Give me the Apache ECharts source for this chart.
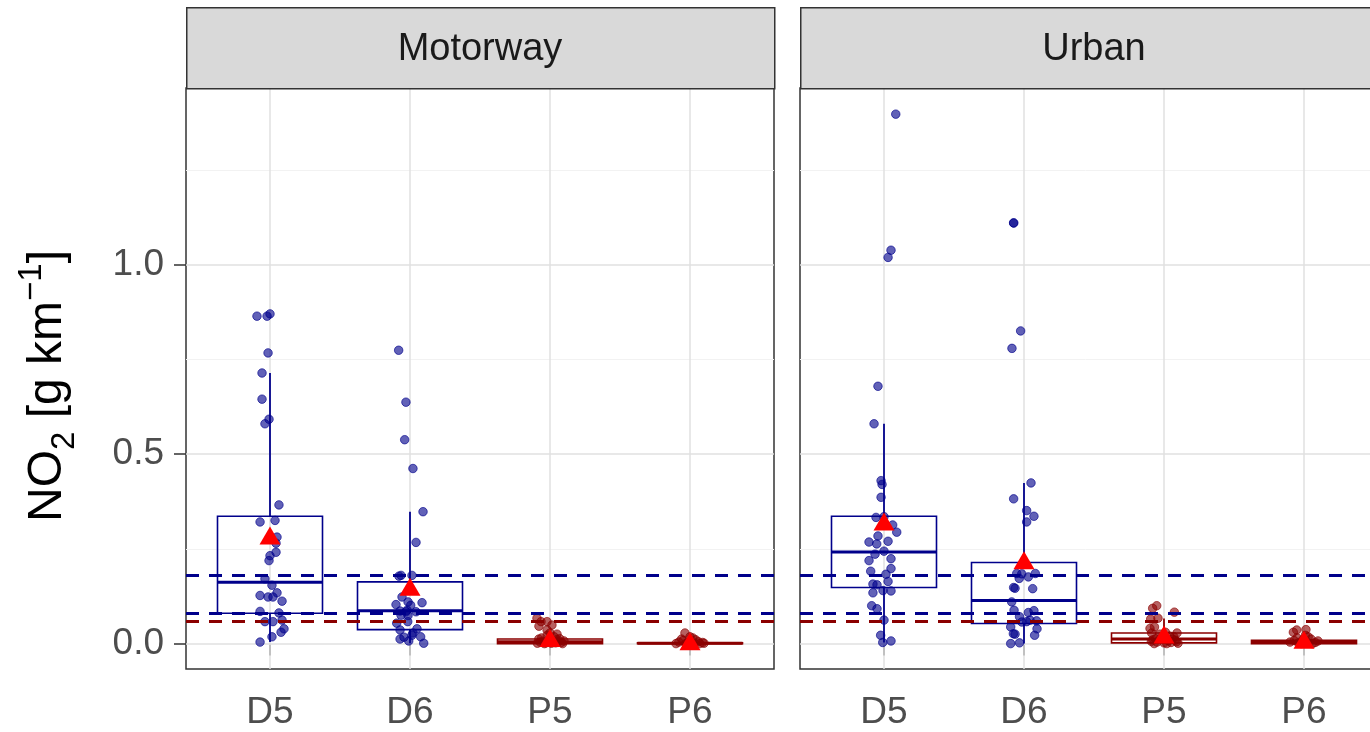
<!DOCTYPE html>
<html>
<head>
<meta charset="utf-8">
<script src="https://cdn.jsdelivr.net/npm/echarts@6/dist/echarts.min.js"></script>
<style>html,body{margin:0;padding:0;background:#fff;}#c{width:1370px;height:732px;}</style>
</head>
<body>
<div id="c"></div>
<script>
// ---------------- DATA ----------------
const categories = ['D5', 'D6', 'P5', 'P6'];
const facets = ['Motorway', 'Urban'];
const yTicks = [0, 0.5, 1.0];
const yMinorGrid = [0.25, 0.75, 1.25];
const limitsDiesel = [0.18, 0.08];
const limitsPetrol = [0.06];

// box stats: [lower whisker, Q1, median, Q3, upper whisker]
const motorwayBox = [
  [0.004, 0.080, 0.162, 0.336, 0.714],
  [0.001, 0.037, 0.087, 0.163, 0.348],
  [0.000, 0.000, 0.005, 0.012, 0.028],
  [0.000, 0.000, 0.001, 0.002, 0.004]
];
const urbanBox = [
  [0.003, 0.148, 0.242, 0.336, 0.580],
  [0.000, 0.053, 0.114, 0.214, 0.424],
  [0.000, 0.002, 0.012, 0.028, 0.066],
  [0.000, 0.000, 0.003, 0.009, 0.020]
];
const motorwayMean = [0.285, 0.150, 0.015, 0.006];
const urbanMean = [0.322, 0.220, 0.024, 0.010];

// jittered points: [horizontal jitter (category units), value]
const motorwayD5 = [[-0.093,0.864],[-0.021,0.864],[0,0.870],[-0.014,0.767],[-0.057,0.714],[-0.057,0.645],[-0.007,0.592],[-0.036,0.580],[0.064,0.366],[-0.071,0.321],[0.036,0.325],[0.05,0.281],[0.043,0.265],[0.043,0.241],[0,0.232],[-0.007,0.219],[-0.036,0.171],[0.014,0.154],[-0.071,0.127],[-0.014,0.123],[0.021,0.123],[0.05,0.134],[0.086,0.112],[-0.071,0.085],[0.064,0.081],[-0.036,0.058],[0.021,0.058],[0.086,0.062],[0.1,0.039],[0.079,0.030],[0.014,0.018],[-0.071,0.004]];
const motorwayD6 = [[-0.081,0.774],[-0.029,0.637],[-0.038,0.538],[0.021,0.462],[0.093,0.348],[0.043,0.267],[-0.064,0.180],[-0.079,0.178],[0.014,0.180],[-0.057,0.123],[-0.1,0.103],[-0.014,0.110],[0.005,0.101],[0.086,0.108],[-0.071,0.086],[-0.029,0.084],[-0.021,0.088],[0.043,0.084],[-0.064,0.075],[-0.014,0.074],[-0.016,0.058],[-0.095,0.054],[-0.071,0.036],[0.05,0.039],[0.021,0.028],[-0.071,0.012],[-0.043,0.017],[-0.009,0.007],[0.076,0.018],[0.098,0.001],[0.014,0.022]];
const motorwayP5 = [[-0.093,0.067],[-0.064,0.058],[-0.021,0.058],[0.014,0.049],[-0.079,0.046],[-0.021,0.036],[-0.08,0.012],[-0.05,0.006],[-0.03,0.002],[0,0.009],[0.02,0.004],[0.05,0.011],[0.08,0.003],[0.1,0.007],[-0.09,0.001],[-0.06,0.015],[0.03,0.018],[0.06,0.005],[-0.02,0.022],[0.07,0.013],[-0.04,0.000],[0.01,0.001],[0.09,0.000],[0.04,0.002],[-0.07,0.004],[0,0.028],[0.05,0.025]];
const motorwayP6 = [[-0.036,0.028],[-0.08,0.004],[-0.05,0.008],[-0.02,0.002],[0,0.006],[0.03,0.001],[0.06,0.005],[0.09,0.003],[-0.1,0.000],[0.1,0.001],[0.04,0.010],[-0.06,0.012],[0.02,0.015],[-0.03,0.000],[0.07,0.000],[0,0.018]];
const urbanD5 = [[0.084,1.397],[0.05,1.038],[0.029,1.019],[-0.043,0.679],[-0.071,0.580],[-0.021,0.430],[-0.014,0.420],[-0.021,0.386],[-0.057,0.333],[0,0.335],[0.062,0.313],[0.091,0.294],[-0.043,0.284],[-0.107,0.268],[-0.052,0.263],[0.029,0.270],[0,0.244],[-0.064,0.236],[-0.107,0.219],[0.05,0.224],[-0.095,0.191],[0.05,0.198],[0.014,0.183],[-0.079,0.157],[-0.05,0.155],[0.029,0.164],[-0.079,0.134],[-0.007,0.140],[0.05,0.139],[-0.088,0.100],[-0.05,0.092],[0,0.062],[-0.024,0.022],[-0.009,0.003],[0.05,0.007]];
const urbanD6 = [[-0.074,1.110],[-0.074,1.110],[-0.024,0.825],[-0.086,0.779],[0.05,0.424],[-0.074,0.382],[0.019,0.351],[0.071,0.336],[0.019,0.321],[-0.052,0.185],[-0.016,0.184],[0.031,0.176],[0.081,0.185],[-0.034,0.172],[-0.074,0.148],[-0.064,0.146],[0.062,0.145],[-0.088,0.110],[-0.071,0.088],[0.031,0.082],[0.071,0.087],[-0.032,0.071],[-0.016,0.057],[0.019,0.058],[0.043,0.062],[0.09,0.060],[-0.095,0.044],[0.093,0.039],[-0.076,0.026],[-0.064,0.025],[0.076,0.022],[-0.095,0.000],[-0.032,0.002]];
const urbanP5 = [[-0.052,0.100],[-0.081,0.093],[0.074,0.083],[-0.043,0.067],[-0.095,0.065],[-0.068,0.044],[-0.1,0.040],[-0.088,0.028],[0.093,0.028],[-0.08,0.010],[-0.05,0.004],[-0.02,0.015],[0,0.002],[0.03,0.008],[0.06,0.012],[0.09,0.005],[-0.07,0.000],[0.1,0.001],[0.04,0.020],[-0.03,0.025],[0.02,0.000],[-0.09,0.006],[0.07,0.018],[0.05,0.003],[-0.06,0.013],[0.01,0.030],[0.08,0.009]];
const urbanP6 = [[-0.052,0.036],[0.014,0.037],[-0.076,0.030],[-0.1,0.004],[-0.07,0.008],[-0.04,0.002],[-0.01,0.010],[0.02,0.005],[0.05,0.012],[0.08,0.003],[0.1,0.007],[-0.02,0.000],[0.03,0.018],[0.06,0.000],[-0.05,0.015],[0.01,0.022]];

const boxStats = [motorwayBox, urbanBox];
const means = [motorwayMean, urbanMean];
const points = [[motorwayD5, motorwayD6, motorwayP5, motorwayP6], [urbanD5, urbanD6, urbanP5, urbanP6]];

// ---------------- STYLE ----------------
const FONT = 'Liberation Sans, Arial, sans-serif';
const catColor = ['#00008B', '#00008B', '#8B0000', '#8B0000'];
const catPoint = ['rgba(0,0,139,0.62)', 'rgba(0,0,139,0.62)', 'rgba(139,0,0,0.62)', 'rgba(139,0,0,0.62)'];
const catEdge = ['rgba(0,0,139,0.8)', 'rgba(0,0,139,0.8)', 'rgba(139,0,0,0.8)', 'rgba(139,0,0,0.8)'];
const gridLefts = [186, 800];
const PW = 588, PT = 88, PH = 581;

const chart = echarts.init(document.getElementById('c'), null, {renderer: 'canvas'});

const grids = [], xAxes = [], yAxes = [], series = [];
facets.forEach((f, i) => {
  grids.push({left: gridLefts[i], top: PT, width: PW, height: PH, show: true, outerBoundsMode: 'none',
    containLabel: false, borderColor: '#333333', borderWidth: 1.5, backgroundColor: '#ffffff'});
  xAxes.push({type: 'value', gridIndex: i, min: 0.4, max: 4.6,
    axisLine: {show: false},
    axisTick: {show: true, customValues: [1, 2, 3, 4], length: 12, lineStyle: {color: '#333333', width: 1.5}},
    axisLabel: {show: true, customValues: [1, 2, 3, 4], formatter: v => categories[Math.round(v) - 1],
      fontSize: 37, color: '#4D4D4D', fontFamily: FONT, margin: 25},
    splitLine: {show: false}});
  yAxes.push({type: 'value', gridIndex: i, min: -0.067, max: 1.466,
    axisLine: {show: false},
    axisTick: {show: i === 0, customValues: yTicks, length: 12, lineStyle: {color: '#333333', width: 1.5}},
    axisLabel: {show: i === 0, customValues: yTicks, formatter: v => v.toFixed(1),
      fontSize: 37, color: '#4D4D4D', fontFamily: FONT, margin: 22},
    splitLine: {show: false}});

  // gridlines
  const gl = [];
  yMinorGrid.forEach(v => gl.push({yAxis: v, lineStyle: {color: '#F2F2F2', width: 1, type: 'solid'}}));
  yTicks.forEach(v => gl.push({yAxis: v, lineStyle: {color: '#E0E0E0', width: 1.5, type: 'solid'}}));
  categories.forEach((c, k) => gl.push({xAxis: k + 1, lineStyle: {color: '#E0E0E0', width: 1.5, type: 'solid'}}));
  series.push({type: 'scatter', xAxisIndex: i, yAxisIndex: i, data: [], z: 1, silent: true,
    markLine: {z: 1, silent: true, symbol: 'none', label: {show: false}, animation: false, data: gl}});

  // boxes
  series.push({type: 'custom', xAxisIndex: i, yAxisIndex: i, z: 2, silent: true,
    data: boxStats[i].map((b, k) => [k + 1].concat(b)),
    renderItem: (params, api) => {
      const x = api.value(0);
      const k = Math.round(x) - 1;
      const col = catColor[k];
      const hw = api.size([0.75, 0])[0] / 2;
      const pLo = api.coord([x, api.value(1)]);
      const pQ1 = api.coord([x, api.value(2)]);
      const pMed = api.coord([x, api.value(3)]);
      const pQ3 = api.coord([x, api.value(4)]);
      const pHi = api.coord([x, api.value(5)]);
      const ls = {stroke: col, lineWidth: 1.6, fill: null};
      const ws = {stroke: col, lineWidth: 1.8};
      return {type: 'group', children: [
        {type: 'line', shape: {x1: pHi[0], y1: pHi[1], x2: pQ3[0], y2: pQ3[1]}, style: ws},
        {type: 'line', shape: {x1: pQ1[0], y1: pQ1[1], x2: pLo[0], y2: pLo[1]}, style: ws},
        {type: 'rect', shape: {x: pQ3[0] - hw, y: pQ3[1], width: 2 * hw, height: Math.max(pQ1[1] - pQ3[1], 0.5)}, style: ls},
        {type: 'line', shape: {x1: pMed[0] - hw, y1: pMed[1], x2: pMed[0] + hw, y2: pMed[1]}, style: {stroke: col, lineWidth: 3}}
      ]};
    }});

  // jittered points
  const pts = [];
  points[i].forEach((arr, k) => arr.forEach(p => pts.push({value: [k + 1 + p[0], p[1]],
    itemStyle: {color: catPoint[k], borderColor: catEdge[k], borderWidth: 0.8, opacity: 1}})));
  series.push({type: 'scatter', xAxisIndex: i, yAxisIndex: i, z: 3, silent: true,
    symbol: 'circle', symbolSize: 8.5, itemStyle: {opacity: 1}, data: pts});

  // limit lines
  const ll = [];
  limitsDiesel.forEach(v => ll.push({yAxis: v, lineStyle: {color: '#00008B', width: 3, type: [13, 10]}}));
  limitsPetrol.forEach(v => ll.push({yAxis: v, lineStyle: {color: '#8B0000', width: 3, type: [13, 10]}}));
  series.push({type: 'scatter', xAxisIndex: i, yAxisIndex: i, data: [], z: 4, silent: true,
    markLine: {z: 4, silent: true, symbol: 'none', label: {show: false}, animation: false, data: ll}});

  // means
  series.push({type: 'scatter', xAxisIndex: i, yAxisIndex: i, z: 5, silent: true,
    symbol: 'triangle', symbolSize: [21, 18], itemStyle: {color: '#FF0000', opacity: 1},
    data: means[i].map((m, k) => [k + 1, m])});
});

const graphics = [];
facets.forEach((f, i) => {
  graphics.push({type: 'rect', left: gridLefts[i], top: 7, shape: {width: PW, height: 81},
    style: {fill: '#D9D9D9', stroke: '#333333', lineWidth: 1.5}, z: 10});
  graphics.push({type: 'text', x: gridLefts[i] + PW / 2, y: 50,
    style: {text: f, fontSize: 38, fontFamily: FONT, fill: '#1A1A1A', textAlign: 'center', textVerticalAlign: 'middle'}, z: 11});
});
graphics.push({type: 'text', x: 48, y: 386, rotation: Math.PI / 2,
  style: {text: '{n|NO}{sub|2}{n| [g km}{sup|\u22121}{n|]}', textAlign: 'center', textVerticalAlign: 'middle',
    rich: {
      n: {fontSize: 48, fontFamily: FONT, fill: '#000', lineHeight: 66, verticalAlign: 'middle'},
      sub: {fontSize: 33, fontFamily: FONT, fill: '#000', lineHeight: 26, verticalAlign: 'bottom'},
      sup: {fontSize: 33, fontFamily: FONT, fill: '#000', lineHeight: 26, verticalAlign: 'top'}
    }}, z: 11});

chart.setOption({
  animation: false,
  backgroundColor: '#ffffff',
  grid: grids, xAxis: xAxes, yAxis: yAxes, series: series, graphic: graphics
});
</script>
</body>
</html>
